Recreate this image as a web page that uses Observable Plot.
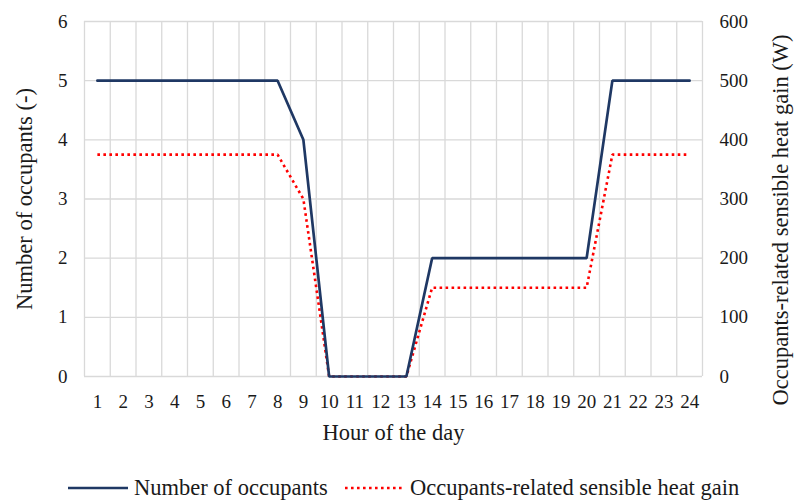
<!DOCTYPE html>
<html>
<head>
<meta charset="utf-8">
<script src="https://cdn.jsdelivr.net/npm/d3@7"></script>
<script src="https://cdn.jsdelivr.net/npm/@observablehq/plot@0.6"></script>
<style>
  html, body { margin: 0; padding: 0; background: #fff; }
  #wrap { position: relative; width: 795px; height: 501px; }
  #legend { position: absolute; left: 0; top: 476px; width: 795px; height: 24px; font-size: 22.5px; color: #1a1a1a; font-family: "Liberation Serif"; }
  .item { position: absolute; top: 0; display: flex; align-items: center; height: 24px; white-space: nowrap; line-height: 24px; }
</style>
</head>
<body>
<div id="wrap">
  <div id="chart"></div>
  <div id="legend"></div>
</div>
<script>
const hours = [1,2,3,4,5,6,7,8,9,10,11,12,13,14,15,16,17,18,19,20,21,22,23,24];
const occupants = [5,5,5,5,5,5,5,5,4,0,0,0,0,2,2,2,2,2,2,2,5,5,5,5];
const heatGain = [375,375,375,375,375,375,375,375,300,0,0,0,0,150,150,150,150,150,150,150,375,375,375,375];
const leftTicks = [0,1,2,3,4,5,6];
const seriesNames = ["Number of occupants", "Occupants-related sensible heat gain"];
const xTitle = "Hour of the day";
const yLeftTitle = "Number of occupants (-)";
const yRightTitle = "Occupants-related sensible heat gain (W)";

const occData = hours.map((h, i) => ({hour: h, value: occupants[i]}));
const heatData = hours.map((h, i) => ({hour: h, value: heatGain[i] / 100}));
const gridX = d3.range(0.5, 25, 1);

const textColor = "#1a1a1a";
const serif = "Liberation Serif";
const navy = "#1f3864";
const red = "#ff0000";
const titleStyle = { text: d => d, fontSize: 22.5, fill: textColor, textAnchor: "middle", lineAnchor: "middle" };
const chart = Plot.plot({
  width: 795,
  height: 455,
  marginLeft: 84,
  marginRight: 93,
  marginTop: 21,
  marginBottom: 79,
  style: { fontFamily: serif, fontSize: "19px", color: textColor, background: "#fff", overflow: "visible" },
  x: { domain: [0.5, 24.5] },
  y: { domain: [0, 6] },
  marks: [
    Plot.ruleX(gridX, { stroke: "#d9d9d9", strokeWidth: 1.3, strokeOpacity: 1 }),
    Plot.ruleY(leftTicks, { stroke: "#d9d9d9", strokeWidth: 1.3, strokeOpacity: 1 }),
    Plot.axisX(hours, { tickSize: 0, tickPadding: 18, fontSize: 19, label: null }),
    Plot.axisY(leftTicks, { anchor: "left", tickSize: 0, tickPadding: 17, fontSize: 19, tickFormat: d => String(d), label: null }),
    Plot.axisY(leftTicks, { anchor: "right", tickSize: 0, tickPadding: 17, fontSize: 19, tickFormat: d => String(d * 100), label: null }),
    Plot.text([xTitle], { ...titleStyle, frameAnchor: "bottom", dy: 56 }),
    Plot.text([yLeftTitle], { ...titleStyle, frameAnchor: "left", rotate: -90, dx: -60 }),
    Plot.text([yRightTitle], { ...titleStyle, frameAnchor: "right", rotate: -90, dx: 78, dy: 21 }),
    Plot.line(heatData, { x: "hour", y: "value", stroke: red, strokeWidth: 2.6, strokeDasharray: "2.6 3.4", strokeLinecap: "butt", strokeLinejoin: "miter" }),
    Plot.line(occData, { x: "hour", y: "value", stroke: navy, strokeWidth: 2.7, strokeLinejoin: "miter" })
  ]
});
chart.querySelectorAll("text").forEach(t => { t.setAttribute("fill", textColor); t.style.fontFamily = serif; });
document.getElementById("chart").appendChild(chart);

const legend = document.getElementById("legend");
const items = [
  { name: seriesNames[0], left: 68, stroke: navy, dash: null, w: 60, gap: 6 },
  { name: seriesNames[1], left: 345, stroke: red, dash: "2.6 3.4", w: 58, gap: 7 }
];
items.forEach(it => {
  const div = document.createElement("div");
  div.className = "item";
  div.style.left = it.left + "px";
  div.innerHTML = `<svg width="${it.w}" height="6" style="margin-right:${it.gap}px"><line x1="0" y1="3" x2="${it.w}" y2="3" stroke="${it.stroke}" stroke-width="2.6" ${it.dash ? `stroke-dasharray="${it.dash}"` : ""}/></svg><span>${it.name}</span>`;
  legend.appendChild(div);
});
</script>
</body>
</html>
